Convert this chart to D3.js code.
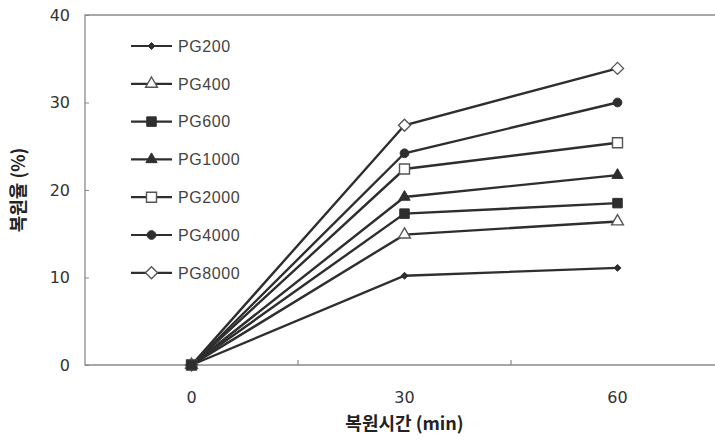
<!DOCTYPE html>
<html>
<head>
<meta charset="utf-8">
<script src="https://cdn.jsdelivr.net/npm/d3@7"></script>
<style>
  html, body { margin: 0; padding: 0; background: #fff; }
  svg { display: block; }
</style>
</head>
<body>
<svg id="chart" width="715" height="440"></svg>
<script>
// Recovery time categories (min)
const categories = ["0", "30", "60"];
// Series names, in legend order
const seriesNames = ["PG200", "PG400", "PG600", "PG1000", "PG2000", "PG4000", "PG8000"];
// Recovery rate (%) per series at 0, 30, 60 min
const pg200  = [0, 10.2, 11.1];
const pg400  = [0, 14.9, 16.4];
const pg600  = [0, 17.3, 18.5];
const pg1000 = [0, 19.2, 21.7];
const pg2000 = [0, 22.4, 25.4];
const pg4000 = [0, 24.2, 30.0];
const pg8000 = [0, 27.4, 33.9];
const yTicks = [0, 10, 20, 30, 40];

// Square diamond (rotated square) of equal width and height
const symbolRhomb = {
  draw(ctx, size) {
    const r = Math.sqrt(size / 2);
    ctx.moveTo(0, -r); ctx.lineTo(r, 0); ctx.lineTo(0, r); ctx.lineTo(-r, 0); ctx.closePath();
  }
};
// Marker per series: shape, filled or not, size
const markers = [
  { shape: symbolRhomb,       fill: true,  size: 24 },
  { shape: d3.symbolTriangle, fill: false, size: 60 },
  { shape: d3.symbolSquare,   fill: true,  size: 90 },
  { shape: d3.symbolTriangle, fill: true,  size: 55 },
  { shape: d3.symbolSquare,   fill: false, size: 100 },
  { shape: d3.symbolCircle,   fill: true,  size: 60 },
  { shape: symbolRhomb,       fill: false, size: 72 }
];

const seriesValues = [pg200, pg400, pg600, pg1000, pg2000, pg4000, pg8000];
const series = seriesNames.map((name, i) => ({ name, values: seriesValues[i], marker: markers[i] }));

const svg = d3.select("#chart");
const numFont = "'DejaVu Sans', sans-serif";
const legFont = "'Liberation Sans', Arial, sans-serif";
const krFont = "'Noto Sans CJK KR', sans-serif";
const lineColor = "#2e2e2e";
const axisColor = "#8a8a8a";

const plot = { left: 85, right: 724, top: 15, bottom: 365 };

const xBand = d3.scaleBand().domain(categories).range([plot.left, plot.right]).padding(0);
const xc = c => xBand(c) + xBand.bandwidth() / 2;
const y = d3.scaleLinear().domain([0, 40]).range([plot.bottom, plot.top]);

// Plot frame (top, left, bottom)
svg.append("path")
  .attr("d", `M${plot.right},${plot.top}H${plot.left}V${plot.bottom}H${plot.right}`)
  .attr("fill", "none").attr("stroke", axisColor).attr("stroke-width", 1.3);

// Y axis ticks (inside) and labels
const yAxis = svg.append("g").attr("transform", `translate(${plot.left},0)`)
  .call(d3.axisRight(y).tickValues(yTicks).tickSize(4).tickFormat(""));
yAxis.select(".domain").remove();
yAxis.selectAll("line").attr("stroke", axisColor);
svg.append("g").selectAll("text").data(yTicks).join("text")
  .attr("x", plot.left - 15).attr("y", d => y(d)).attr("dy", "0.36em")
  .attr("text-anchor", "end")
  .attr("font-family", numFont).attr("font-size", 16).attr("fill", "#333")
  .text(d => d);

// X axis ticks at category boundaries (inside)
const bounds = categories.slice(1).map(c => xBand(c));
svg.append("g").selectAll("line").data(bounds).join("line")
  .attr("x1", d => d).attr("x2", d => d)
  .attr("y1", plot.bottom).attr("y2", plot.bottom - 5)
  .attr("stroke", axisColor).attr("stroke-width", 1.2);
svg.append("g").selectAll("text").data(categories).join("text")
  .attr("x", d => xc(d)).attr("y", plot.bottom + 38)
  .attr("text-anchor", "middle")
  .attr("font-family", numFont).attr("font-size", 16).attr("fill", "#333")
  .text(d => d);

// Axis titles
svg.append("text")
  .attr("x", xc("30")).attr("y", 424).attr("dy", "0.35em")
  .attr("text-anchor", "middle")
  .attr("font-family", krFont).attr("font-size", 18).attr("font-weight", "bold").attr("fill", "#222")
  .text("복원시간 (min)");
svg.append("text")
  .attr("transform", `translate(19,${y(20)}) rotate(-90)`)
  .attr("text-anchor", "middle").attr("dy", "0.35em")
  .attr("font-family", krFont).attr("font-size", 18).attr("font-weight", "bold").attr("fill", "#222")
  .text("복원율 (%)");

// Series lines
const line = d3.line().x((d, i) => xc(categories[i])).y(d => y(d));
const g = svg.append("g");
series.forEach(s => {
  g.append("path").datum(s.values)
    .attr("d", line).attr("fill", "none")
    .attr("stroke", lineColor).attr("stroke-width", 2.4);
});

function drawMarker(sel, m, tx, ty) {
  sel.append("path")
    .attr("d", d3.symbol().type(m.shape).size(m.size)())
    .attr("transform", `translate(${tx},${ty})`)
    .attr("fill", m.fill ? lineColor : "#fff")
    .attr("stroke", m.fill ? lineColor : "#555")
    .attr("stroke-width", m.fill ? 1 : 1.4);
}

series.forEach(s => {
  s.values.forEach((v, i) => drawMarker(g, s.marker, xc(categories[i]), y(v)));
});
// The filled square sits on top where all series start together
drawMarker(g, series[2].marker, xc(categories[0]), y(series[2].values[0]));

// Legend
const legend = svg.append("g");
series.forEach((s, i) => {
  const ly = 46 + i * 37.8;
  legend.append("line").attr("x1", 131).attr("x2", 172).attr("y1", ly).attr("y2", ly)
    .attr("stroke", lineColor).attr("stroke-width", 2.2);
  drawMarker(legend, s.marker, 151.5, ly);
  legend.append("text").attr("x", 178).attr("y", ly).attr("dy", "0.36em")
    .attr("font-family", legFont).attr("font-size", 16).attr("letter-spacing", 0.6).attr("fill", "#444")
    .text(s.name);
});
</script>
</body>
</html>
